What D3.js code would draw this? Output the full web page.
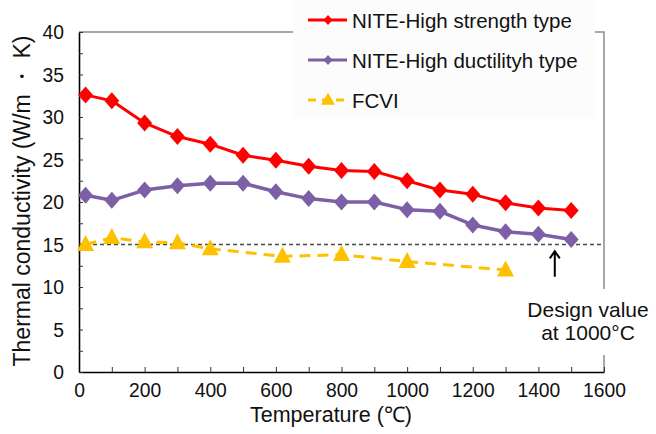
<!DOCTYPE html>
<html>
<head>
<meta charset="utf-8">
<script src="https://cdn.jsdelivr.net/npm/d3@7"></script>
<style>
  html, body { margin: 0; padding: 0; background: #fff; }
  svg { display: block; font-family: "Liberation Sans", Arial, sans-serif; }
</style>
</head>
<body>
<svg id="chart" width="656" height="434"></svg>
<script>
// --- data ---
const temps = [20, 100, 200, 300, 400, 500, 600, 700, 800, 900, 1000, 1100, 1200, 1300, 1400, 1500];
const strengthType = [32.6, 31.9, 29.3, 27.7, 26.8, 25.5, 24.9, 24.2, 23.7, 23.6, 22.5, 21.4, 20.9, 19.9, 19.3, 19.0];
const ductilityType = [20.8, 20.2, 21.4, 21.9, 22.2, 22.2, 21.2, 20.4, 20.0, 20.0, 19.1, 18.9, 17.3, 16.5, 16.2, 15.6];
const fcviTemps = [20, 100, 200, 300, 400, 620, 800, 1000, 1300];
const fcviValues = [15.0, 15.8, 15.3, 15.2, 14.5, 13.6, 13.8, 13.0, 12.0];
const designValue = 15;
const arrowAt = [1450, 11.2, 14.2]; // temperature, from, to
const xTicks = d3.range(0, 1601, 100);
const yTicks = d3.range(0, 40.01, 2.5);
const seriesNames = ["NITE-High strength type", "NITE-High ductilityh type", "FCVI"];
const noteLines = ["Design value", "at 1000°C"];

const W = 656, H = 434;
const plot = { left: 79, right: 604, top: 32, bottom: 372 };

const svg = d3.select("#chart");
svg.append("rect").attr("width", W).attr("height", H).attr("fill", "#fff");

const x = d3.scaleLinear().domain([0, 1600]).range([plot.left, plot.right]);
const y = d3.scaleLinear().domain([0, 40]).range([plot.bottom, plot.top]);

// plot-area frame (top + right, grey)
svg.append("path")
  .attr("d", `M${plot.left},${plot.top}H${plot.right}V${plot.bottom}`)
  .attr("fill", "none")
  .attr("stroke", "#8a8a8a")
  .attr("stroke-width", 1.5);

// axes
const xAxis = d3.axisBottom(x)
  .tickValues(xTicks)
  .tickSizeInner(-5).tickSizeOuter(0)
  .tickPadding(10)
  .tickFormat(d => d % 200 === 0 ? d : "");
const gx = svg.append("g").attr("transform", `translate(0,${plot.bottom})`).call(xAxis);

const yAxis = d3.axisLeft(y)
  .tickValues(yTicks)
  .tickSizeInner(-4).tickSizeOuter(0)
  .tickPadding(15)
  .tickFormat(d => d % 5 === 0 ? d : "");
const gy = svg.append("g").attr("transform", `translate(${plot.left},0)`).call(yAxis);

[gx, gy].forEach(g => {
  g.select(".domain").attr("stroke", "#000").attr("stroke-width", 1.6);
  g.selectAll(".tick line").attr("stroke", "#333").attr("stroke-width", 1);
  g.selectAll(".tick text")
    .attr("font-family", "'Liberation Sans', Arial, sans-serif")
    .attr("font-size", 21).attr("fill", "#111");
});
// the reference glyphs are a little narrower than they are tall
const sx = 0.92;
gx.selectAll(".tick text").attr("transform", `scale(${sx},1)`);
gy.selectAll(".tick text").attr("x", -15 / sx).attr("transform", `scale(${sx},1)`);

// axis titles
svg.append("text")
  .attr("transform", `translate(22,${(plot.top + plot.bottom) / 2 - 1}) rotate(-90)`)
  .attr("text-anchor", "middle")
  .attr("dominant-baseline", "central")
  .attr("font-size", 23).attr("fill", "#111")
  .text("Thermal conductivity (W/m ・ K)");

svg.append("text")
  .attr("x", 331).attr("y", 422)
  .attr("text-anchor", "middle")
  .attr("font-size", 21.5).attr("fill", "#111")
  .text("Temperature (℃)");

// design value reference line
svg.append("line")
  .attr("x1", x(0)).attr("x2", plot.right - 3)
  .attr("y1", y(designValue)).attr("y2", y(designValue))
  .attr("stroke", "#4a4a4a")
  .attr("stroke-width", 1.6)
  .attr("stroke-dasharray", "4,3");

// marker shapes
const diamond = (w, h) => `M0,${-h}L${w},0L0,${h}L${-w},0Z`;
const triangle = (w, h) => `M0,${-h * 0.6}L${w},${h * 0.4}L${-w},${h * 0.4}Z`;

const series = [
  { name: seriesNames[0], xs: temps, ys: strengthType, color: "#ff0000", width: 3, dash: null, marker: diamond(7.5, 8.5), legendMarker: diamond(4.5, 5) },
  { name: seriesNames[1], xs: temps, ys: ductilityType, color: "#7c5fa6", width: 3.5, dash: null, marker: diamond(7.5, 8.5), legendMarker: diamond(4.5, 5) },
  { name: seriesNames[2], xs: fcviTemps, ys: fcviValues, color: "#ffc000", width: 3, dash: "11,7", marker: triangle(8.5, 16), legendMarker: triangle(7, 12) }
];

const line = d3.line().x(d => x(d[0])).y(d => y(d[1]));

series.slice().reverse().forEach(s => {
  const pts = s.xs.map((t, i) => [t, s.ys[i]]);
  svg.append("path")
    .attr("d", line(pts))
    .attr("fill", "none")
    .attr("stroke", s.color)
    .attr("stroke-width", s.width)
    .attr("stroke-dasharray", s.dash)
    .attr("stroke-linejoin", "round");
  svg.append("g").selectAll("path")
    .data(pts)
    .join("path")
    .attr("transform", d => `translate(${x(d[0])},${y(d[1])})`)
    .attr("d", s.marker)
    .attr("fill", s.color);
});

// arrow pointing to the design value
{
  const ax = x(arrowAt[0]);
  const y0 = y(arrowAt[1]), y1 = y(arrowAt[2]);
  svg.append("path")
    .attr("d", `M${ax},${y0}V${y1}M${ax - 5},${y1 + 7}L${ax},${y1}L${ax + 5},${y1 + 7}`)
    .attr("fill", "none")
    .attr("stroke", "#000")
    .attr("stroke-width", 2);
}

// annotation text box
svg.append("rect")
  .attr("x", 516).attr("y", 289).attr("width", 140).attr("height", 66)
  .attr("fill", "#fff");
svg.append("g").selectAll("text")
  .data(noteLines)
  .join("text")
  .attr("x", 588)
  .attr("y", (d, i) => 317 + i * 23)
  .attr("text-anchor", "middle")
  .attr("font-size", 21).attr("fill", "#111")
  .text(d => d);

// legend
const legend = svg.append("g");
legend.append("rect")
  .attr("x", 293).attr("y", 0).attr("width", 302).attr("height", 118)
  .attr("fill", "#fcfcfc");
series.forEach((s, i) => {
  const ly = 20 + i * 40;
  const row = legend.append("g").attr("transform", `translate(0,${ly})`);
  row.append("line")
    .attr("x1", 308).attr("x2", 347)
    .attr("stroke", s.color)
    .attr("stroke-width", 3)
    .attr("stroke-dasharray", s.dash ? "8,6" : null);
  row.append("path")
    .attr("transform", "translate(328,0)")
    .attr("d", s.legendMarker)
    .attr("fill", s.color);
  row.append("text")
    .attr("x", 352)
    .attr("dominant-baseline", "central")
    .attr("font-size", 20.5).attr("fill", "#111")
    .text(s.name);
});
</script>
</body>
</html>
